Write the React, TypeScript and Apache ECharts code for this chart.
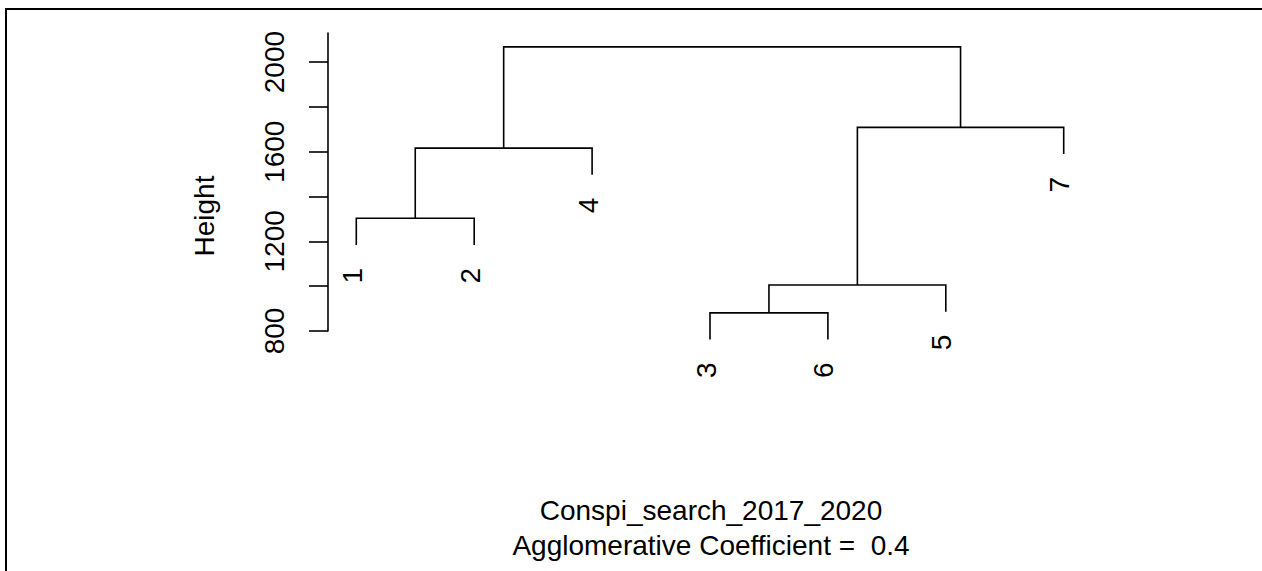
import React, { useEffect, useRef } from "react";
import * as echarts from "echarts";

// Leaf order along the x axis (as plotted)
const leafOrder: string[] = ["1", "2", "4", "3", "6", "5", "7"];
// Merge steps: left child, right child, merge height
// "Lk" = leaf k, "Mk" = result of merge step k (1-based)
const mergeLeft: string[] = ["L1", "L3", "M2", "M1", "M3", "M4"];
const mergeRight: string[] = ["L2", "L6", "L5", "L4", "L7", "M5"];
const mergeHeight: number[] = [1303, 881, 1005, 1616, 1709, 2068];

const yTickValues: number[] = [800, 1000, 1200, 1400, 1600, 1800, 2000];
const yLabelValues: number[] = [800, 1200, 1600, 2000];

const titleMain = "Conspi_search_2017_2020";
const titleSub = "Agglomerative Coefficient =  0.4";
const yName = "Height";

const FONT = "'Liberation Sans', Arial, Helvetica, sans-serif";

function buildDendrogram() {
  const hMax = Math.max(...mergeHeight);
  const hMin = Math.min(...mergeHeight);
  const hang = 0.1 * (hMax - hMin);
  const nodeX: Record<string, number> = {};
  const nodeBottom: Record<string, number> = {};
  leafOrder.forEach((lab, i) => {
    nodeX["L" + lab] = i + 1;
  });
  const segs: number[][] = [];
  const leaves: (number | string)[][] = [];
  mergeHeight.forEach((h, k) => {
    const l = mergeLeft[k];
    const r = mergeRight[k];
    const bl = l.startsWith("L") ? h - hang : nodeBottom[l];
    const br = r.startsWith("L") ? h - hang : nodeBottom[r];
    if (l.startsWith("L")) leaves.push([nodeX[l], bl, l.slice(1)]);
    if (r.startsWith("L")) leaves.push([nodeX[r], br, r.slice(1)]);
    segs.push([nodeX[l], bl, nodeX[r], br, h]);
    const id = "M" + (k + 1);
    nodeX[id] = (nodeX[l] + nodeX[r]) / 2;
    nodeBottom[id] = h;
  });
  return { segs, leaves };
}

export default function App() {
  const ref = useRef<HTMLDivElement>(null);
  useEffect(() => {
    if (!ref.current) return;
    const chart = echarts.init(ref.current, undefined, { renderer: "svg" });
    const { segs, leaves } = buildDendrogram();
    chart.setOption({
      animation: false,
      backgroundColor: "#fff",
      grid: { left: 328, right: 170, top: 33, bottom: 240, outerBoundsMode: "none" },
      xAxis: { type: "value", min: 0.76, max: 7.24, show: false },
      yAxis: {
        type: "value",
        min: 800,
        max: 2130,
        axisLine: { show: true, onZero: false, lineStyle: { color: "#000", width: 1.6 } },
        axisTick: { show: true, length: 19, lineStyle: { color: "#000", width: 1.6 }, customValues: yTickValues },
        axisLabel: {
          rotate: 90,
          margin: 40,
          customValues: yLabelValues,
          formatter: (v: number) => String(v),
          fontSize: 28,
          color: "#000",
          fontFamily: FONT,
        },
        splitLine: { show: false },
      },
      series: [
        {
          type: "custom",
          clip: false,
          data: segs,
          encode: { x: [0, 2], y: [1, 3, 4] },
          renderItem: (params: any, api: any) => {
            const xl = api.value(0), yl = api.value(1), xr = api.value(2), yr = api.value(3), h = api.value(4);
            const pts = [api.coord([xl, yl]), api.coord([xl, h]), api.coord([xr, h]), api.coord([xr, yr])];
            return {
              type: "polyline",
              shape: { points: pts },
              style: { fill: "none", stroke: "#000", lineWidth: 1.6 },
            };
          },
        },
        {
          type: "custom",
          clip: false,
          data: leaves,
          encode: { x: 0, y: 1 },
          renderItem: (params: any, api: any) => {
            const p = api.coord([api.value(0), api.value(1)]);
            const lab = leaves[params.dataIndex][2] as string;
            return {
              type: "text",
              x: p[0] - 4,
              y: p[1] + 23,
              rotation: Math.PI / 2,
              style: {
                text: lab,
                fontSize: 28,
                fontFamily: FONT,
                fill: "#000",
                align: "right",
                verticalAlign: "middle",
              },
            };
          },
        },
      ],
      graphic: [
        { type: "line", shape: { x1: 6, y1: 9, x2: 1262, y2: 9 }, style: { stroke: "#000", lineWidth: 2 } },
        { type: "line", shape: { x1: 6, y1: 8, x2: 6, y2: 571 }, style: { stroke: "#000", lineWidth: 2 } },
        {
          type: "text",
          x: 204,
          y: 216,
          rotation: Math.PI / 2,
          style: { text: yName, fontSize: 28, fontFamily: FONT, fill: "#000", align: "center", verticalAlign: "middle" },
        },
        {
          type: "text",
          x: 711,
          y: 510,
          style: { text: titleMain, fontSize: 28, fontFamily: FONT, fill: "#000", align: "center", verticalAlign: "middle" },
        },
        {
          type: "text",
          x: 711,
          y: 545,
          style: { text: titleSub, fontSize: 28, fontFamily: FONT, fill: "#000", align: "center", verticalAlign: "middle" },
        },
      ],
    });
    return () => chart.dispose();
  }, []);
  return <div ref={ref} style={{ position: "fixed", left: 0, top: 0, width: 1262, height: 571 }} />;
}
